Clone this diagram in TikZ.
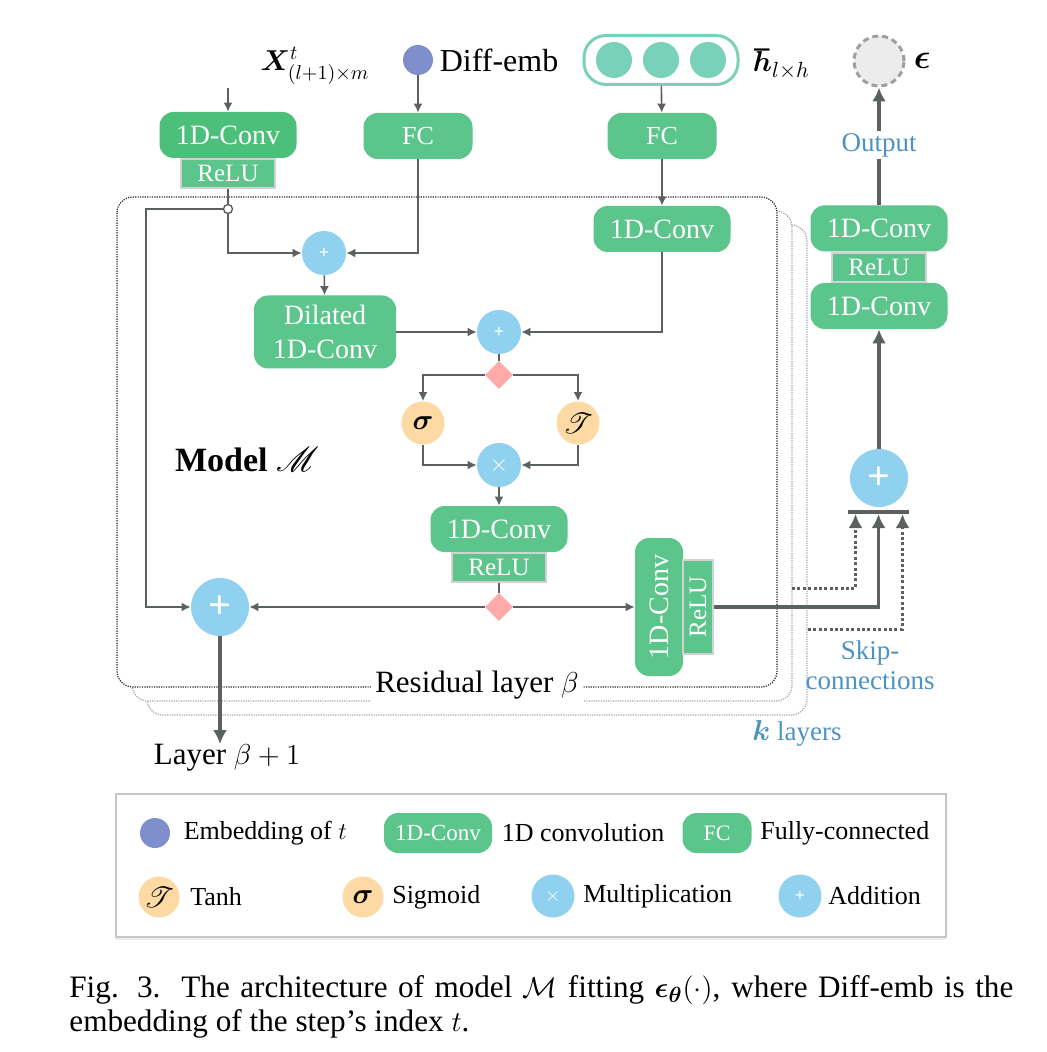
\documentclass[tikz,border=0pt]{standalone}
\usepackage{amsmath,bm,mathrsfs}
\usepackage{fontspec}
\setmainfont{Liberation Serif}
\usetikzlibrary{arrows.meta,positioning,shapes.geometric,shadows}

\definecolor{convgreen}{HTML}{5CC58B}
\definecolor{convdark}{HTML}{4CBF7B}
\definecolor{opblue}{HTML}{8FD1EE}
\definecolor{actorange}{HTML}{FDD9A3}
\definecolor{splitpink}{HTML}{FFA9A9}
\definecolor{embpurple}{HTML}{7F8FCB}
\definecolor{hteal}{HTML}{79D1B9}
\definecolor{wiregray}{HTML}{5B6060}
\definecolor{skipblue}{HTML}{4C93C2}

\tikzset{
    wire/.style = {draw=wiregray, line width=0.8pt},
    arr/.style = {wire, -{Latex[length=4.5pt,width=4.5pt]}},
    bigarr/.style = {draw=wiregray, line width=1.8pt, -{Latex[length=7pt,width=7pt]}},
    skiparr/.style = {bigarr, line width=1.5pt, dash pattern=on 1.5pt off 1.2pt},
    conv/.style = {rectangle, rounded corners=7pt, fill=convgreen, text=white,
        minimum width=68.5pt, minimum height=23pt, inner sep=0pt,
        font=\fontsize{14}{17}\selectfont},
    fc/.style = {conv, minimum width=54.5pt, font=\fontsize{13}{13}\selectfont},
    relu/.style = {rectangle, fill=convgreen, draw=gray!35, line width=0.9pt, text=white,
        minimum width=47pt, minimum height=14.5pt, inner sep=0pt,
        font=\fontsize{12.5}{12.5}\selectfont},
    addop/.style = {circle, fill=opblue, text=white, minimum size=22pt, inner sep=0pt,
        font=\fontsize{9}{9}\selectfont\bfseries},
    bigadd/.style = {addop, minimum size=29pt, font=\fontsize{20}{20}\selectfont\bfseries},
    mulop/.style = {addop, font=\fontsize{13}{13}\selectfont},
    act/.style = {circle, fill=actorange, minimum size=21.5pt, inner sep=0pt,
        font=\fontsize{14}{14}\selectfont},
    splitpt/.style = {diamond, fill=splitpink, minimum size=14pt, inner sep=0pt},
    emb/.style = {circle, fill=embpurple, minimum size=15pt, inner sep=0pt},
    hcell/.style = {circle, fill=hteal, minimum size=18pt, inner sep=0pt},
    hbox/.style = {rectangle, rounded corners=11pt, draw=hteal, line width=1.5pt, fill=white,
        minimum width=77pt, minimum height=24.5pt},
    junc/.style = {circle, draw=wiregray, fill=white, line width=0.7pt, minimum size=4.5pt, inner sep=0pt},
    epsnode/.style = {circle, draw=gray!75, fill=gray!15, line width=1.5pt,
        dash pattern=on 3pt off 2pt, minimum size=25pt, inner sep=0pt},
    barnode/.style = {rectangle, fill=wiregray, minimum width=30.5pt, minimum height=1.6pt, inner sep=0pt},
    resframe/.style = {rounded corners=8pt, fill=white, line width=0.6pt, dash pattern=on 0.6pt off 0.6pt},
    lbl/.style = {inner sep=0pt, font=\fontsize{15.5}{15.5}\selectfont},
    mathlbl/.style = {inner sep=0pt, font=\fontsize{15}{15}\selectfont},
    modeltxt/.style = {inner sep=0pt, font=\fontsize{17}{17}\selectfont\bfseries},
    bluetxt/.style = {inner sep=1pt, text=skipblue, font=\fontsize{13.5}{15}\selectfont},
    legtxt/.style = {inner sep=0pt, font=\fontsize{13}{13}\selectfont},
    legbox/.style = {rectangle, draw=gray!45, line width=1pt, fill=white,
        minimum width=415pt, minimum height=71.5pt,
        drop shadow={opacity=0.15, shadow xshift=0pt, shadow yshift=-1.5pt}}
}

\begin{document}
\begin{tikzpicture}[x=0.5pt,y=-0.5pt]
    \useasboundingbox (0,0) rectangle (1046,1052);

    % k stacked residual layers
    \draw[resframe, draw=gray!70] (147,225) rectangle (807,715);
    \draw[resframe, draw=gray!70] (132,211) rectangle (792,701);
    \draw[resframe, draw=black!85] (117,197) rectangle (777,687);

    % inputs
    \node[mathlbl, font=\fontsize{14}{14}\selectfont] (xin) at (315,66) {$\bm{X}^{t}_{(l+1)\times m}$};
    \coordinate (xtop) at (228,88);
    \node[conv, fill=convdark] (conv1) at (228,135) {1D-Conv};
    \node[relu] (relu1) [below = 0pt of conv1] {ReLU};

    \node[emb] (demb) at (418,60) {};
    \node[lbl, font=\fontsize{16}{16}\selectfont] (dembl) [right = 3pt of demb] {Diff-emb};
    \node[fc] (fc1) at (418,136) {FC};

    \node[hbox] (hid) at (661,60) {};
    \node[hcell] (h1) at (614,60) {};
    \node[hcell] (h2) at (661,60) {};
    \node[hcell] (h3) at (708,60) {};
    \node[mathlbl] (hlbl) at (782,64) {$\bm{\hbar}_{l\times h}$};
    \node[fc] (fc2) at (662,136) {FC};
    \node[conv] (conv2) at (662,229) {1D-Conv};

    % residual layer
    \node[junc] (jn) at (228,209) {};
    \coordinate (lft) at (146,209);
    \node[addop] (add1) at (324,253) {+};
    \node[conv, minimum width=71pt, minimum height=36.5pt, align=center] (dil) at (325,332) {Dilated\\1D-Conv};
    \node[addop] (add2) at (499,332) {+};
    \node[splitpt] (split1) at (499,375) {};
    \node[act] (sig) at (423,423) {$\bm{\sigma}$};
    \node[act] (tanh) at (578,423) {$\mathscr{T}$};
    \node[mulop] (mul) at (499,465) {$\times$};
    \node[conv] (conv3) at (499,529) {1D-Conv};
    \node[relu] (relu3) [below = 0pt of conv3] {ReLU};
    \node[splitpt] (split2) at (499,607) {};
    \node[bigadd] (add3) at (220,607) {+};
    \node[lbl] (layer) at (227,758) {Layer $\beta+1$};
    \node[conv, rotate=90, minimum width=69pt, minimum height=24pt] (vconv) at (659,607) {1D-Conv};
    \node[relu, rotate=90, minimum width=47pt, minimum height=15pt] (vrelu) at (698,607) {ReLU};

    \node[modeltxt] (model) at (247,460) {Model $\mathscr{M}$};
    \node[lbl, fill=white, inner sep=2pt] (reslbl) at (477,685) {Residual layer $\beta$};

    % output branch
    \node[bigadd] (add4) at (879,478) {+};
    \node[barnode] (bar) at (878.5,512) {};
    \coordinate (skip1) at (792,588);
    \coordinate (skip2) at (808,629);
    \node[conv] (conv5) at (879,306) {1D-Conv};
    \node[relu] (relu4) [above = 0pt of conv5] {ReLU};
    \node[conv] (conv4) [above = 0pt of relu4] {1D-Conv};
    \node[epsnode] (eps) at (879,61) {};
    \node[mathlbl, font=\fontsize{17}{17}\selectfont] (epsl) [right = 4pt of eps] {$\bm{\epsilon}$};

    % connectors
    \draw[arr] (xtop) -- (conv1);
    \draw[arr] (demb) -- (fc1);
    \draw[arr] (hid) -- (fc2);
    \draw[arr] (fc2) -- (conv2);
    \draw[wire] (relu1) -- (jn);
    \draw[arr] (jn) |- (add1);
    \draw[arr] (fc1) |- (add1);
    \draw[arr] (jn) -- (lft) |- (add3);
    \draw[arr] (add1) -- (dil);
    \draw[arr] (dil) -- (add2);
    \draw[arr] (conv2) |- (add2);
    \draw[wire] (add2) -- (split1);
    \draw[arr] (split1) -| (sig);
    \draw[arr] (split1) -| (tanh);
    \draw[arr] (sig) |- (mul);
    \draw[arr] (tanh) |- (mul);
    \draw[arr] (mul) -- (conv3);
    \draw[wire] (relu3) -- (split2);
    \draw[arr] (split2) -- (add3);
    \draw[arr] (split2) -- (vconv);
    \draw[bigarr] (add3) -- (add3 |- layer.north);

    \draw[bigarr] (vrelu) -| (bar.south);
    \draw[skiparr] (skip1) -| ([xshift=-11.5pt]bar.south);
    \draw[skiparr] (skip2) -| ([xshift=12pt]bar.south);
    \draw[bigarr] (add4) -- (conv5);
    \draw[bigarr] (conv4) -- (eps);

    \node[bluetxt, fill=white] (outl) at (879,145) {Output};
    \node[bluetxt, align=center] (skipl) at (870,665) {Skip-\\connections};
    \node[bluetxt] (kl) at (797,733) {$\bm{k}$ layers};

    % legend
    \node[legbox] (leg) at (531,865.5) {};
    \node[emb] (lemb) at (155,833) {};
    \node[legtxt] [right = 6.5pt of lemb] {Embedding of $t$};
    \node[conv, minimum width=54pt, minimum height=20pt, font=\fontsize{11.5}{11.5}\selectfont] (lconv) at (438,833) {1D-Conv};
    \node[legtxt] [right = 4.5pt of lconv] {1D convolution};
    \node[fc, minimum width=34.5pt, minimum height=20pt, font=\fontsize{11}{11}\selectfont] (lfc) at (717,833) {FC};
    \node[legtxt] [right = 4pt of lfc] {Fully-connected};
    \node[act, minimum size=20.5pt] (ltanh) at (159,897) {$\mathscr{T}$};
    \node[legtxt] [right = 5pt of ltanh] {Tanh};
    \node[act, minimum size=20.5pt] (lsig) at (363,897) {$\bm{\sigma}$};
    \node[legtxt] [right = 4pt of lsig] {Sigmoid};
    \node[mulop, minimum size=21.5pt, font=\fontsize{10}{10}\selectfont] (lmul) at (553,896) {$\times$};
    \node[legtxt] [right = 4pt of lmul] {Multiplication};
    \node[addop, minimum size=21.5pt] (ladd) at (800,896) {+};
    \node[legtxt] [right = 3pt of ladd] {Addition};

    % caption
    \node[anchor=north west, inner sep=0pt, text width=472pt, align=justify,
        font=\fontsize{15.6}{17}\selectfont] (cap) at (69,975)
        {Fig. 3.\ \ The architecture of model $\mathcal{M}$ fitting $\bm{\epsilon}_{\bm{\theta}}(\cdot)$, where Diff-emb is the\linebreak embedding of the step's index $t$.};

\end{tikzpicture}
\end{document}
